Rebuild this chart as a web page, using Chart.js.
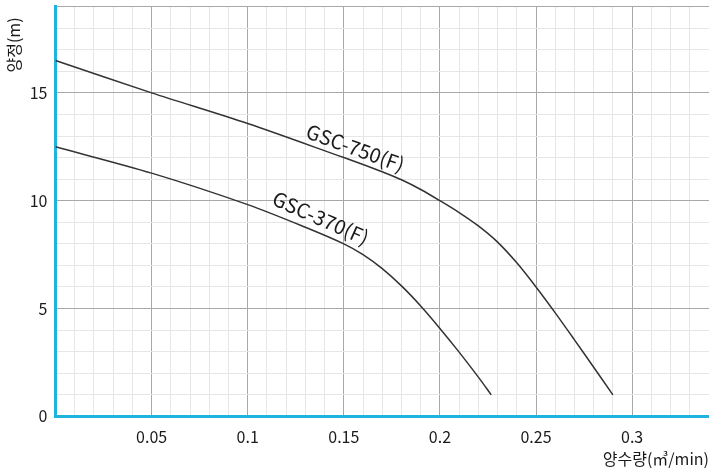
<!DOCTYPE html>
<html>
<head>
<meta charset="utf-8">
<script src="https://cdn.jsdelivr.net/npm/chart.js@4.4.0/dist/chart.umd.min.js"></script>
<style>
    body { margin: 0; background: #fff; }
    #graphCanvas { display: block; }
</style>
</head>
<body>
<canvas id="graphCanvas" width="709" height="474"></canvas>
<script>
// pump curves
var flow750 = [0, 0.05, 0.1, 0.15, 0.16, 0.17, 0.18, 0.19, 0.2, 0.21, 0.22, 0.23, 0.24, 0.25, 0.26, 0.27, 0.28, 0.29];
var head750 = [16.5, 15.0, 13.58, 12.0, 11.68, 11.34, 10.97, 10.52, 10.0, 9.45, 8.83, 8.08, 7.12, 6.0, 4.8, 3.55, 2.28, 1.0];
var flow370 = [0, 0.05, 0.1, 0.13, 0.15, 0.16, 0.17, 0.18, 0.19, 0.2, 0.21, 0.22, 0.2267];
var head370 = [12.5, 11.28, 9.82, 8.77, 8.0, 7.5, 6.85, 6.05, 5.12, 4.08, 2.98, 1.82, 1.0];
var seriesNames = ['GSC-750(F)', 'GSC-370(F)'];
var xTickLabels = [0.05, 0.1, 0.15, 0.2, 0.25, 0.3];
var yTickLabels = [0, 5, 10, 15];

var fontName = "'Noto Sans CJK KR', 'Noto Sans', sans-serif";

function toPoints(xs, ys) {
    var pts = [];
    for (var i in xs) {
        pts.push({ x: xs[i], y: ys[i] });
    }
    return pts;
}

function isMajorX(v) {
    return Math.round(v * 100) % 5 === 0;
}

function noEdgePadding(scale) {
    scale.paddingTop = 0;
    scale.paddingBottom = 0;
    scale.paddingLeft = 0;
    scale.paddingRight = 0;
}

// curve names written along the lines, plus the head title at the top left
var curveLabels = {
    id: 'curveLabels',
    afterDatasetsDraw: function (chart) {
        var ctx = chart.ctx;
        var xs = chart.scales.x;
        var ys = chart.scales.y;
        var spots = [
            { text: seriesNames[0], x: 0.156, y: 12.45, angle: 20 },
            { text: seriesNames[1], x: 0.138, y: 9.2, angle: 24 }
        ];
        ctx.save();
        ctx.fillStyle = '#1a1a1a';
        ctx.font = '20px ' + fontName;
        ctx.textAlign = 'center';
        ctx.textBaseline = 'middle';
        for (var i in spots) {
            ctx.save();
            ctx.translate(xs.getPixelForValue(spots[i].x), ys.getPixelForValue(spots[i].y));
            ctx.rotate(spots[i].angle * Math.PI / 180);
            ctx.fillText(spots[i].text, 0, 0);
            ctx.restore();
        }

        ctx.font = '16px ' + fontName;
        ctx.translate(14, 45);
        ctx.rotate(-Math.PI / 2);
        ctx.fillText('양정(m)', 0, 0);
        ctx.restore();
    }
};

function showGraph() {
    var chartdata = {
        datasets: [
            {
                label: seriesNames[0],
                data: toPoints(flow750, head750),
                borderColor: '#333333',
                borderWidth: 1.5,
                pointRadius: 0,
                showLine: true,
                tension: 0.3
            },
            {
                label: seriesNames[1],
                data: toPoints(flow370, head370),
                borderColor: '#333333',
                borderWidth: 1.5,
                pointRadius: 0,
                showLine: true,
                tension: 0.3
            }
        ]
    };

    var graphTarget = document.getElementById('graphCanvas');

    var lineGraph = new Chart(graphTarget, {
        type: 'scatter',
        data: chartdata,
        plugins: [curveLabels],
        options: {
            responsive: false,
            animation: false,
            layout: { padding: { top: 6.6, right: 0, left: 0, bottom: 0 } },
            plugins: {
                legend: { display: false },
                tooltip: { enabled: false }
            },
            scales: {
                x: {
                    type: 'linear',
                    min: 0,
                    max: 0.34,
                    afterFit: function (scale) {
                        scale.height = 57.6;
                        noEdgePadding(scale);
                    },
                    border: { display: true, color: '#1fb3e0', width: 3 },
                    grid: {
                        drawTicks: false,
                        color: function (c) {
                            return isMajorX(c.tick.value) ? '#a8a8a8' : '#e6e6e6';
                        }
                    },
                    ticks: {
                        stepSize: 0.01,
                        autoSkip: false,
                        maxRotation: 0,
                        padding: 11,
                        color: '#1a1a1a',
                        font: { family: fontName, size: 16 },
                        callback: function (value) {
                            var v = Math.round(value * 100) / 100;
                            return xTickLabels.indexOf(v) >= 0 ? String(v) : '';
                        }
                    },
                    title: {
                        display: true,
                        text: '양수량(㎥/min)',
                        align: 'end',
                        color: '#1a1a1a',
                        font: { family: fontName, size: 16 },
                        padding: { top: 0, bottom: 5 }
                    }
                },
                y: {
                    min: 0,
                    max: 19,
                    afterFit: function (scale) {
                        scale.width = 55.5;
                        noEdgePadding(scale);
                    },
                    border: { display: true, color: '#1fb3e0', width: 3 },
                    grid: {
                        drawTicks: false,
                        color: function (c) {
                            var v = c.tick.value;
                            return (v % 5 === 0 || v === 19) ? '#a8a8a8' : '#e6e6e6';
                        }
                    },
                    ticks: {
                        stepSize: 1,
                        autoSkip: false,
                        padding: 8,
                        color: '#1a1a1a',
                        font: { family: fontName, size: 16 },
                        callback: function (value) {
                            return yTickLabels.indexOf(value) >= 0 ? String(value) : '';
                        }
                    }
                }
            }
        }
    });
}

showGraph();
</script>
</body>
</html>
